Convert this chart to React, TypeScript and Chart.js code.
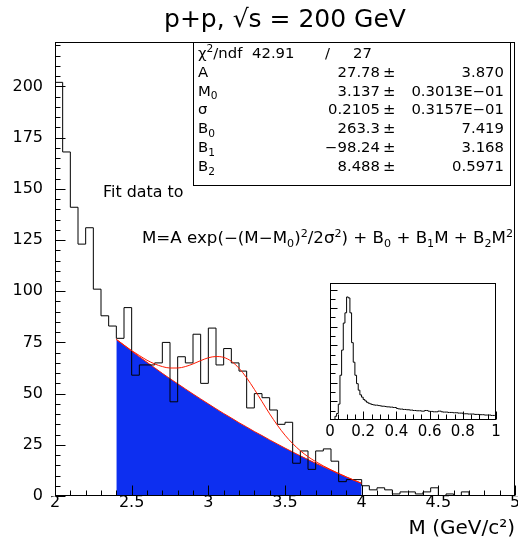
import React, { useEffect, useRef } from "react";
import { Chart, registerables } from "chart.js";

Chart.register(...registerables);

const FONT = "'DejaVu Sans', sans-serif";

// ---- text ----
const TITLE = "p+p, \u221As = 200 GeV";
const X_AXIS_TITLE = "M (GeV/c\u00B2)";
const FIT_INTRO = "Fit data to";

// ---- main histogram ----
const X_MIN = 2;
const X_MAX = 5;
const Y_MIN = 0;
const Y_MAX = 221.7;
const binStart = 2.0;
const binWidth = 0.05;
const counts = [
  202, 168, 141, 123, 131, 101, 88, 83, 77, 92,
  59, 64, 64, 65, 75, 46, 68, 65, 79, 55,
  82, 64, 72, 65, 61, 43, 50, 48, 42, 35,
  36, 16, 22, 13, 22, 23, 17, 7, 8, 8,
  5, 3, 4, 3, 1, 2, 2, 1, 2, 4,
  0, 1, 0, 2, 0, 0, 0, 0, 0, 0,
];
const xTickValues = [2, 2.5, 3, 3.5, 4, 4.5, 5];
const yTickValues = [0, 25, 50, 75, 100, 125, 150, 175, 200];

// ---- fit curves ----
const fitM = [
  2.4, 2.45, 2.5, 2.55, 2.6, 2.65, 2.7, 2.75, 2.8, 2.85, 2.9, 2.95, 3.0, 3.05, 3.1, 3.15, 3.2,
  3.25, 3.3, 3.35, 3.4, 3.45, 3.5, 3.55, 3.6, 3.65, 3.7, 3.75, 3.8, 3.85, 3.9, 3.95, 4.0,
];
const fitTotal = [
  76.5, 73.7, 71.0, 68.6, 66.3, 64.5, 63.2, 62.5, 62.5, 63.2, 64.5, 66.1, 67.5, 68.1, 67.7, 65.8, 62.4,
  57.7, 52.1, 46.1, 40.1, 34.6, 29.7, 25.6, 22.1, 19.2, 16.8, 14.7, 12.8, 11.0, 9.3, 7.7, 6.2,
];
const fitBackground = [
  76.4, 73.6, 70.8, 68.0, 65.3, 62.6, 59.9, 57.3, 54.8, 52.3, 49.8, 47.4, 45.0, 42.6, 40.3, 38.1, 35.8,
  33.7, 31.5, 29.5, 27.4, 25.4, 23.4, 21.5, 19.6, 17.8, 16.0, 14.3, 12.6, 10.9, 9.3, 7.7, 6.2,
];

// ---- fit results box ----
const chi2Value = "42.91";
const ndfValue = "27";
type Run = [string, "n" | "sub" | "sup"];
const statNames: Run[][] = [
  [["A", "n"]],
  [["M", "n"], ["0", "sub"]],
  [["\u03C3", "n"]],
  [["B", "n"], ["0", "sub"]],
  [["B", "n"], ["1", "sub"]],
  [["B", "n"], ["2", "sub"]],
];
const statValues = ["27.78", "3.137", "0.2105", "263.3", "\u221298.24", "8.488"];
const statErrors = ["3.870", "0.3013E\u221201", "0.3157E\u221201", "7.419", "3.168", "0.5971"];
const formulaRuns: Run[] = [
  ["M=A exp(\u2212(M\u2212M", "n"], ["0", "sub"], [")", "n"], ["2", "sup"], ["/2\u03C3", "n"], ["2", "sup"],
  [") + B", "n"], ["0", "sub"], [" + B", "n"], ["1", "sub"], ["M + B", "n"], ["2", "sub"], ["M", "n"], ["2", "sup"],
];

// ---- inset histogram ----
const insetBinStart = 0;
const insetBinWidth = 0.01;
const insetCounts = [
  0, 0, 0, 0.4, 0.7, 1.7, 4.8, 7.5, 10.4, 11.5,
  13.2, 13.1, 11.5, 8.3, 6.2, 4.8, 3.9, 3.2, 2.7, 2.45,
  2.2, 2.05, 1.9, 1.8, 1.73, 1.66, 1.62, 1.59, 1.59, 1.55,
  1.52, 1.48, 1.48, 1.45, 1.41, 1.41, 1.38, 1.38, 1.34, 1.34,
  1.24, 1.2, 1.17, 1.17, 1.13, 1.13, 1.1, 1.1, 1.06, 1.06,
  1.02, 1.02, 0.99, 0.99, 0.99, 0.95, 0.95, 1.02, 1.02, 0.95,
  0.92, 0.92, 0.88, 0.88, 0.88, 0.95, 0.95, 0.88, 0.85, 0.85,
  0.85, 0.81, 0.81, 0.81, 0.78, 0.78, 0.78, 0.74, 0.74, 0.74,
  0.67, 0.67, 0.67, 0.64, 0.64, 0.64, 0.64, 0.6, 0.6, 0.6,
  0.57, 0.57, 0.57, 0.53, 0.53, 0.53, 0.53, 0.49, 0.49, 0.49,
];
const INSET_X_MIN = 0;
const INSET_X_MAX = 1;
const INSET_Y_MAX = 14.7;
const insetTickValues = [0, 0.2, 0.4, 0.6, 0.8, 1];

const BLUE = "#0d2ff0";
const RED = "#ff1a00";

function drawRuns(
  ctx: CanvasRenderingContext2D,
  runs: Run[],
  x: number,
  baseline: number,
  size: number,
  sx: number,
  align: "left" | "right"
) {
  const small = Math.round(size * 0.68);
  let w = 0;
  const widths = runs.map(([t, m]) => {
    ctx.font = `${m === "n" ? size : small}px ${FONT}`;
    const ww = ctx.measureText(t).width;
    w += ww;
    return ww;
  });
  const x0 = align === "right" ? x - w * sx : x;
  ctx.save();
  ctx.translate(x0, baseline);
  ctx.scale(sx, 1);
  ctx.textAlign = "left";
  ctx.textBaseline = "alphabetic";
  ctx.fillStyle = "#000";
  let cx = 0;
  runs.forEach(([t, m], i) => {
    ctx.font = `${m === "n" ? size : small}px ${FONT}`;
    const dy = m === "sub" ? size * 0.25 : m === "sup" ? -size * 0.42 : 0;
    ctx.fillText(t, cx, dy);
    cx += widths[i];
  });
  ctx.restore();
  return w;
}

const line = (ctx: CanvasRenderingContext2D, x1: number, y1: number, x2: number, y2: number) => {
  ctx.beginPath();
  ctx.moveTo(x1, y1);
  ctx.lineTo(x2, y2);
  ctx.stroke();
};

const mainDecor = {
  id: "mainDecor",
  afterDraw(chart: any) {
    const { ctx, chartArea: a } = chart;
    const xs = chart.scales.x;
    const ys = chart.scales.y;
    ctx.save();
    ctx.strokeStyle = "#000";
    ctx.lineWidth = 1;
    const L = Math.round(a.left) + 0.5;
    const R = Math.round(a.right) - 0.5;
    const T = Math.round(a.top) + 0.5;
    const B = Math.round(a.bottom) - 0.5;
    ctx.strokeRect(L, T, R - L, B - T);
    // x ticks (inside, pointing up)
    for (let k = 0; k <= 30; k++) {
      const v = X_MIN + k * 0.1;
      const px = Math.round(xs.getPixelForValue(v)) + 0.5;
      const len = k % 5 === 0 ? 10 : 5;
      line(ctx, px, B, px, B - len);
    }
    // y ticks (inside, pointing right)
    for (let k = 0; 5 * k <= Y_MAX; k++) {
      const v = 5 * k;
      const py = Math.round(ys.getPixelForValue(v)) + 0.5;
      const len = k % 5 === 0 ? 10 : 5;
      line(ctx, L, py, L + len, py);
    }
    // fit results box
    const bx1 = 193.5;
    const bx2 = 510.5;
    const by2 = 185.5;
    ctx.fillStyle = "#fff";
    ctx.fillRect(bx1, T, bx2 - bx1, by2 - T);
    ctx.strokeRect(bx1, T, bx2 - bx1, by2 - T);

    const sx = 1.06;
    const fs = 14;
    drawRuns(ctx, [["\u03C7", "n"], ["2", "sup"], ["/ndf", "n"]], 198, 58, fs, sx, "left");
    drawRuns(ctx, [[chi2Value, "n"]], 252, 58, fs, sx, "left");
    drawRuns(ctx, [["/", "n"]], 325, 58, fs, sx, "left");
    drawRuns(ctx, [[ndfValue, "n"]], 372, 58, fs, sx, "right");
    const rowBase = [77, 95.5, 114, 133, 152, 171];
    statNames.forEach((runs, i) => {
      const yb = rowBase[i];
      drawRuns(ctx, runs, 198, yb, fs, sx, "left");
      drawRuns(ctx, [[statValues[i], "n"]], 380, yb, fs, sx, "right");
      drawRuns(ctx, [["\u00B1", "n"]], 383, yb, fs, sx, "left");
      drawRuns(ctx, [[statErrors[i], "n"]], 504, yb, fs, sx, "right");
    });

    // fit description
    drawRuns(ctx, [[FIT_INTRO, "n"]], 103, 197, 15, 1.06, "left");
    ctx.save();
    const w = (() => {
      let tot = 0;
      const small = Math.round(15 * 0.68);
      formulaRuns.forEach(([t, m]) => {
        ctx.font = `${m === "n" ? 15 : small}px ${FONT}`;
        tot += ctx.measureText(t).width;
      });
      return tot;
    })();
    ctx.restore();
    drawRuns(ctx, formulaRuns, 142, 243, 15, 371 / w, "left");
    ctx.restore();
  },
};

const insetDecor = {
  id: "insetDecor",
  afterDraw(chart: any) {
    const { ctx, chartArea: a } = chart;
    const xs = chart.scales.x;
    const ys = chart.scales.y;
    ctx.save();
    ctx.strokeStyle = "#000";
    ctx.lineWidth = 1;
    const L = Math.round(a.left) + 0.5;
    const R = Math.round(a.right) - 0.5;
    const T = Math.round(a.top) + 0.5;
    const B = Math.round(a.bottom) - 0.5;
    ctx.strokeRect(L, T, R - L, B - T);
    for (let k = 0; k <= 20; k++) {
      const v = INSET_X_MIN + k * 0.05;
      const px = Math.round(xs.getPixelForValue(v)) + 0.5;
      const len = k % 4 === 0 ? 8 : 5;
      line(ctx, px, B, px, B - len);
    }
    for (let k = 1; k <= 14; k++) {
      const py = Math.round(ys.getPixelForValue(k)) + 0.5;
      const len = k % 2 === 0 ? 7 : 5;
      line(ctx, L, py, L + len, py);
    }
    ctx.restore();
  },
};

export default function App() {
  const mainRef = useRef<HTMLCanvasElement | null>(null);
  const insetRef = useRef<HTMLCanvasElement | null>(null);

  useEffect(() => {
    const histPoints = counts.map((c, i) => ({ x: binStart + i * binWidth, y: c }));
    histPoints.push({ x: binStart + counts.length * binWidth, y: counts[counts.length - 1] });
    const totalPoints = fitM.map((m, i) => ({ x: m, y: fitTotal[i] }));
    const bgPoints = fitM.map((m, i) => ({ x: m, y: fitBackground[i] }));

    const main = new Chart(mainRef.current as HTMLCanvasElement, {
      type: "line",
      data: {
        datasets: [
          {
            data: totalPoints,
            borderColor: RED,
            borderWidth: 1,
            pointRadius: 0,
            fill: false,
            cubicInterpolationMode: "monotone",
            order: 1,
          },
          {
            data: histPoints,
            borderColor: "#000",
            borderWidth: 1,
            pointRadius: 0,
            fill: false,
            stepped: true,
            order: 2,
          },
          {
            data: bgPoints,
            borderColor: RED,
            borderWidth: 1,
            backgroundColor: BLUE,
            pointRadius: 0,
            fill: "origin",
            cubicInterpolationMode: "monotone",
            order: 3,
          },
        ],
      } as any,
      options: {
        responsive: false,
        animation: false,
        devicePixelRatio: 1,
        events: [],
        layout: { padding: { left: 0, right: 3, top: 0, bottom: 0 } },
        plugins: {
          legend: { display: false },
          tooltip: { enabled: false },
          title: {
            display: true,
            text: TITLE,
            fullSize: false,
            color: "#000",
            font: { family: FONT, size: 25, weight: "normal" },
            padding: { top: 5, bottom: 7 },
          },
        },
        scales: {
          x: {
            type: "linear",
            min: X_MIN,
            max: X_MAX,
            grid: { display: false, drawTicks: false },
            border: { display: false },
            ticks: {
              color: "#000",
              font: { family: FONT, size: 16 },
              padding: -3,
              autoSkip: false,
              maxRotation: 0,
              callback: (v: any) => String(v),
            },
            title: {
              display: true,
              text: X_AXIS_TITLE,
              align: "end",
              color: "#000",
              font: { family: FONT, size: 20 },
              padding: { top: 0, bottom: 2 },
            },
            afterBuildTicks: (s: any) => {
              s.ticks = xTickValues.map((v) => ({ value: v }));
            },
            afterFit: (s: any) => {
              s.height = 47;
              s.paddingLeft = 0;
              s.paddingRight = 0;
            },
          },
          y: {
            type: "linear",
            min: Y_MIN,
            max: Y_MAX,
            grid: { display: false, drawTicks: false },
            border: { display: false },
            ticks: {
              color: "#000",
              font: { family: FONT, size: 16 },
              padding: 12,
              autoSkip: false,
              callback: (v: any) => String(v),
            },
            afterBuildTicks: (s: any) => {
              s.ticks = yTickValues.map((v) => ({ value: v }));
            },
            afterFit: (s: any) => {
              s.width = 55;
              s.paddingTop = 0;
              s.paddingBottom = 0;
            },
          },
        },
      } as any,
      plugins: [mainDecor],
    });

    const insetPoints = insetCounts.map((c, i) => ({ x: insetBinStart + i * insetBinWidth, y: c }));
    insetPoints.push({
      x: insetBinStart + insetCounts.length * insetBinWidth,
      y: insetCounts[insetCounts.length - 1],
    });

    const inset = new Chart(insetRef.current as HTMLCanvasElement, {
      type: "line",
      data: {
        datasets: [
          {
            data: insetPoints,
            borderColor: "#000",
            borderWidth: 1,
            pointRadius: 0,
            fill: false,
            stepped: true,
          },
        ],
      } as any,
      options: {
        responsive: false,
        animation: false,
        devicePixelRatio: 1,
        events: [],
        layout: { padding: { left: 12, right: 17, top: 7, bottom: 0 } },
        plugins: { legend: { display: false }, tooltip: { enabled: false }, title: { display: false } },
        scales: {
          x: {
            type: "linear",
            min: INSET_X_MIN,
            max: INSET_X_MAX,
            grid: { display: false, drawTicks: false },
            border: { display: false },
            ticks: {
              color: "#000",
              font: { family: FONT, size: 15 },
              padding: 3,
              autoSkip: false,
              maxRotation: 0,
              callback: (v: any) => String(v),
            },
            afterBuildTicks: (s: any) => {
              s.ticks = insetTickValues.map((v) => ({ value: v }));
            },
            afterFit: (s: any) => {
              s.height = 26;
              s.paddingLeft = 0;
              s.paddingRight = 0;
            },
          },
          y: { type: "linear", display: false, min: 0, max: INSET_Y_MAX },
        },
      } as any,
      plugins: [insetDecor],
    });

    return () => {
      main.destroy();
      inset.destroy();
    };
  }, []);

  return (
    <div style={{ position: "absolute", left: 0, top: 0, width: 518, height: 543, background: "#fff" }}>
      <canvas
        ref={mainRef}
        width={518}
        height={543}
        style={{ position: "absolute", left: 0, top: 0, width: 518, height: 543, display: "block" }}
      />
      <canvas
        ref={insetRef}
        width={195}
        height={170}
        style={{ position: "absolute", left: 318, top: 276, width: 195, height: 170, display: "block" }}
      />
    </div>
  );
}
